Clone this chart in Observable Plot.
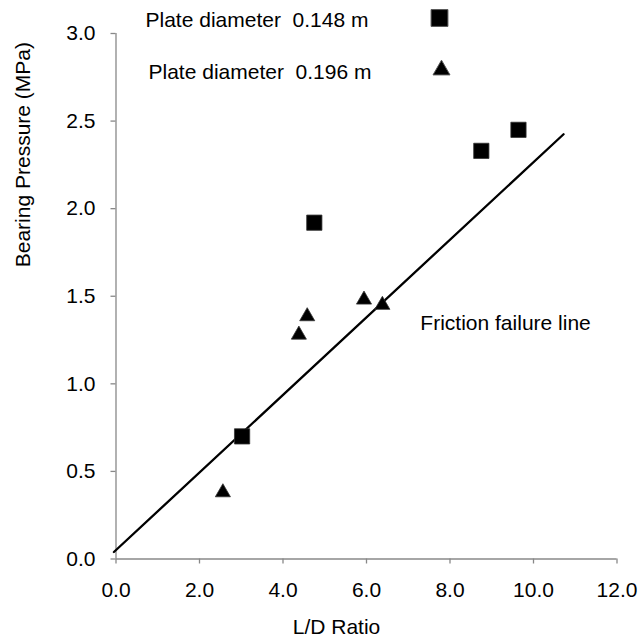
<!DOCTYPE html>
<html>
<head>
<meta charset="utf-8">
<script src="https://cdn.jsdelivr.net/npm/d3@7"></script>
<script src="https://cdn.jsdelivr.net/npm/@observablehq/plot@0.6"></script>
<style>
  html, body { margin: 0; padding: 0; background: #fff; }
  #chart { width: 644px; height: 642px; }
</style>
</head>
<body>
<div id="chart"></div>
<script>
// Plate diameter 0.148 m (squares)
const squareLD = [3.02, 4.75, 8.75, 9.64];
const squareP  = [0.70, 1.92, 2.33, 2.45];
// Plate diameter 0.196 m (triangles)
const triLD = [2.56, 4.38, 4.58, 5.94, 6.38];
const triP  = [0.38, 1.28, 1.385, 1.48, 1.45];
// Friction failure line end points
const lineLD = [-0.05, 10.72];
const lineP  = [0.04, 2.425];
// Axis ticks
const xTicks = [0, 2, 4, 6, 8, 10, 12];
const yTicks = [0, 0.5, 1.0, 1.5, 2.0, 2.5, 3.0];
const legendLabels = ["Plate diameter \u00a00.148 m", "Plate diameter \u00a00.196 m"];
const annotation = {x: 7.29, y: 1.346, text: "Friction failure line"};

const squares = squareLD.map((x, i) => ({x, y: squareP[i]}));
const tris = triLD.map((x, i) => ({x, y: triP[i]}));
const line = lineLD.map((x, i) => ({x, y: lineP[i]}));

const axisColor = "#888888";

const chart = Plot.plot({
  width: 644,
  height: 642,
  marginLeft: 115.5,
  marginRight: 27.5,
  marginTop: 33,
  marginBottom: 83.5,
  style: {fontFamily: "'Liberation Sans', Arial, sans-serif", fontSize: "21px", color: "#000", background: "#fff"},
  x: {domain: [0, 12]},
  y: {domain: [0, 3]},
  marks: [
    Plot.axisX({ticks: xTicks, tickFormat: d => d.toFixed(1), tickSize: 5, tickPadding: 18.5, stroke: axisColor, strokeWidth: 1.3, label: null, fill: "#000"}),
    Plot.axisY({ticks: yTicks, tickFormat: d => d.toFixed(1), tickSize: 5, tickPadding: 15.5, stroke: axisColor, strokeWidth: 1.3, label: null, fill: "#000"}),
    Plot.ruleX([0], {stroke: axisColor, strokeWidth: 1.3}),
    Plot.ruleY([0], {stroke: axisColor, strokeWidth: 1.3}),
    Plot.line(line, {x: "x", y: "y", stroke: "#000", strokeWidth: 2.3}),
    Plot.dot(squares, {x: "x", y: "y", symbol: "square", r: 8.6, fill: "#000", stroke: "#333", strokeWidth: 0.8}),
    Plot.dot(tris, {x: "x", y: "y", symbol: "triangle", r: 5.6, fill: "#000", stroke: "#333", strokeWidth: 0.8}),
    Plot.text([annotation], {x: "x", y: "y", text: "text", textAnchor: "start", lineAnchor: "middle", fill: "#000"}),
    // axis titles
    Plot.text(["L/D Ratio"], {frameAnchor: "bottom", text: d => d, dx: -30, dy: 68.5, lineAnchor: "middle", fill: "#000"}),
    Plot.text(["Bearing Pressure (MPa)"], {frameAnchor: "left", text: d => d, rotate: -90, dx: -93, dy: -29, lineAnchor: "middle", fill: "#000"}),
    // legend
    Plot.text([legendLabels[0]], {frameAnchor: "top-left", text: d => d, dx: 29.5, dy: -13, textAnchor: "start", lineAnchor: "middle", fill: "#000"}),
    Plot.text([legendLabels[1]], {frameAnchor: "top-left", text: d => d, dx: 32.5, dy: 39, textAnchor: "start", lineAnchor: "middle", fill: "#000"}),
    Plot.dot([legendLabels[0]], {frameAnchor: "top-left", dx: 323.5, dy: -15.5, symbol: "square", r: 9.5, fill: "#000", stroke: "#555", strokeWidth: 1}),
    Plot.dot([legendLabels[1]], {frameAnchor: "top-left", dx: 325.5, dy: 36.5, symbol: "triangle", r: 6.3, fill: "#000", stroke: "#555", strokeWidth: 1})
  ]
});
document.getElementById("chart").appendChild(chart);
</script>
</body>
</html>
